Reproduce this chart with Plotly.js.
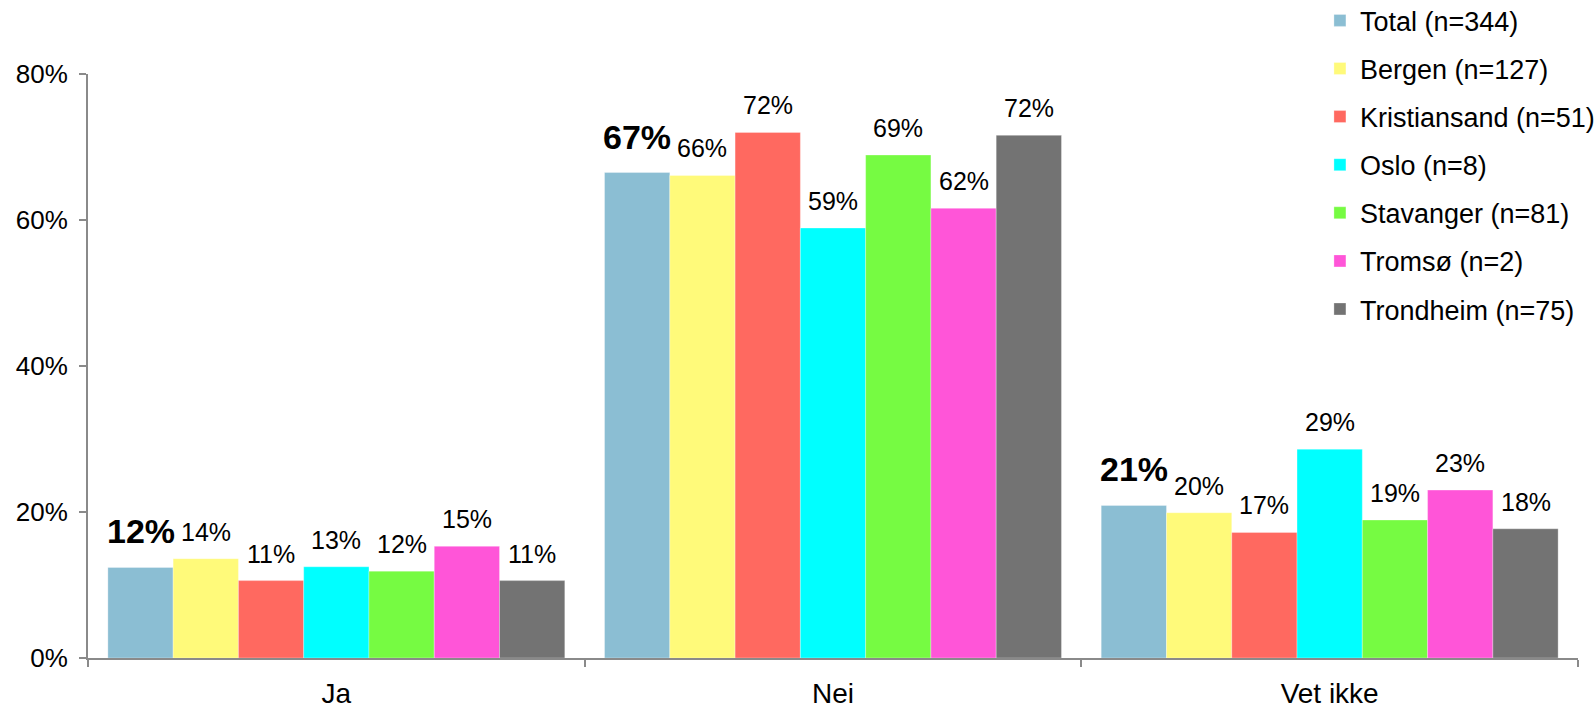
<!DOCTYPE html>
<html>
<head>
<meta charset="utf-8">
<script src="https://cdn.plot.ly/plotly-3.0.1.min.js"></script>
<style>html,body{margin:0;padding:0;background:#fff;}#chart{width:1594px;height:709px;}</style>
</head>
<body>
<div id="chart"></div>
<script>
const categories = ['Ja', 'Nei', 'Vet ikke'];
const seriesNames = ['Total (n=344)', 'Bergen (n=127)', 'Kristiansand (n=51)', 'Oslo (n=8)', 'Stavanger (n=81)', 'Tromsø (n=2)', 'Trondheim (n=75)'];
const totalVals = [12.4, 66.5, 20.9];
const bergenVals = [13.6, 66.1, 19.9];
const kristiansandVals = [10.6, 72.0, 17.2];
const osloVals = [12.5, 58.9, 28.6];
const stavangerVals = [11.9, 68.9, 18.9];
const tromsoVals = [15.3, 61.6, 23.0];
const trondheimVals = [10.6, 71.6, 17.7];
const yTickVals = [0, 20, 40, 60, 80];
const yTickText = ['0%', '20%', '40%', '60%', '80%'];

const seriesValues = [totalVals, bergenVals, kristiansandVals, osloVals, stavangerVals, tromsoVals, trondheimVals];
const colors = ['#8BBED3', '#FFFA7A', '#FF6960', '#00FFFF', '#76FB42', '#FF55D8', '#737373'];
const FONT = 'Liberation Sans, Arial, Helvetica, sans-serif';
const bargap = 0.08;

const traces = seriesNames.map((name, k) => ({
  type: 'bar',
  name: name,
  x: categories,
  y: seriesValues[k],
  marker: {color: colors[k], line: {color: 'rgba(255,255,255,0.6)', width: 0.5}},
  legendgroup: 'g' + k,
  hoverinfo: 'skip'
}));

const nS = seriesNames.length;
const barW = (1 - bargap) / nS;
const annotations = [];
seriesValues.forEach((vals, k) => {
  vals.forEach((v, i) => {
    const bold = k === 0;
    annotations.push({
      x: i + (k - (nS - 1) / 2) * barW,
      y: v,
      xref: 'x', yref: 'y',
      text: bold ? '<b>' + Math.round(v) + '%</b>' : Math.round(v) + '%',
      showarrow: false,
      yanchor: 'middle',
      xanchor: 'center',
      yshift: bold ? 36 : 27,
      font: {family: FONT, size: bold ? 34 : 25, color: '#000'}
    });
  });
});

const layout = {
  width: 1594,
  height: 709,
  margin: {l: 88, r: 16, t: 74, b: 51, autoexpand: false},
  paper_bgcolor: '#fff',
  plot_bgcolor: '#fff',
  barmode: 'group',
  bargap: bargap,
  bargroupgap: 0,
  font: {family: FONT, color: '#000'},
  showlegend: true,
  legend: {
    x: 0.8268, y: 1.133, xanchor: 'left', yanchor: 'top',
    font: {family: FONT, size: 27, color: '#000'},
    traceorder: 'grouped',
    tracegroupgap: 10,
    itemwidth: 30,
    bgcolor: 'rgba(0,0,0,0)'
  },
  xaxis: {
    type: 'category',
    showline: true, linecolor: '#8a8a8a', linewidth: 2,
    ticks: 'outside', tickson: 'boundaries', ticklen: 7, tickcolor: '#8a8a8a', tickwidth: 2,
    tickfont: {family: FONT, size: 28, color: '#000'},
    ticklabelstandoff: 9,
    showgrid: false, zeroline: false
  },
  yaxis: {
    range: [0, 80],
    tickvals: yTickVals, ticktext: yTickText,
    showline: true, linecolor: '#8a8a8a', linewidth: 2,
    ticks: 'outside', ticklen: 7, tickcolor: '#8a8a8a', tickwidth: 2,
    tickfont: {family: FONT, size: 26, color: '#000'},
    ticklabelstandoff: 6,
    showgrid: false, zeroline: false
  },
  annotations: annotations
};

Plotly.newPlot('chart', traces, layout, {displayModeBar: false, staticPlot: true});
</script>
</body>
</html>
